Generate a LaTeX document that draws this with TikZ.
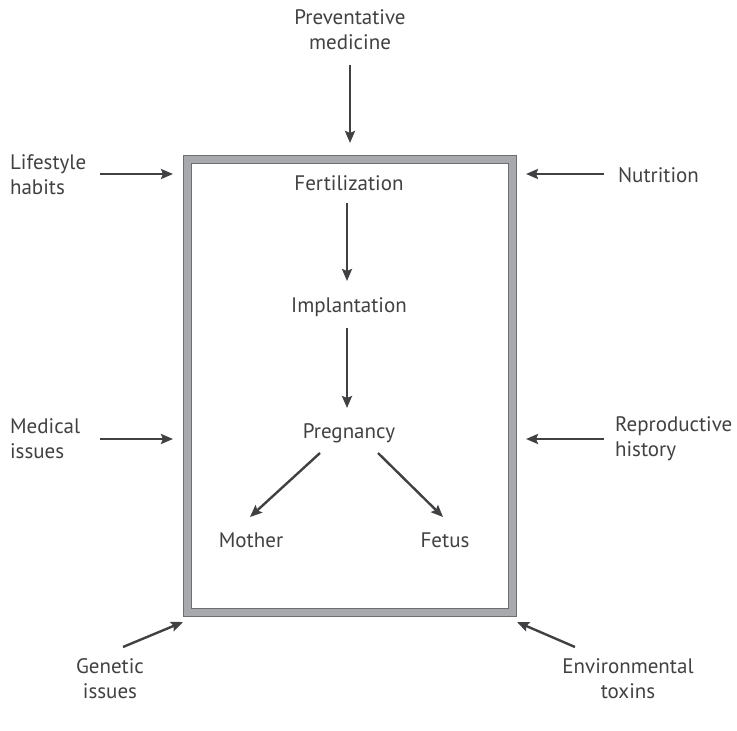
\documentclass[tikz,border=0pt]{standalone}
\usepackage{fontspec}
\setmainfont{PT Sans}
\usetikzlibrary{arrows.meta}
\definecolor{arrgray}{HTML}{414042}
\definecolor{framegray}{HTML}{A7A9AC}
\definecolor{framedark}{HTML}{6D6E71}
\begin{document}
\begin{tikzpicture}[x=0.5pt,y=-0.5pt,
    every node/.style={font=\fontsize{10.5}{12.5}\selectfont, text=arrgray},
    arr/.style={draw=arrgray, line width=1.2pt, -{Stealth[length=6pt,width=5pt,inset=1pt]}}]
  \useasboundingbox (0,0) rectangle (737,731);
  % frame
  \draw[framedark, fill=framegray, line width=0.5pt] (183,156) rectangle (516,616);
  \draw[framedark, fill=white, line width=0.5pt] (191,164) rectangle (508,608);
  % inside
  \node (fert) at (349,183) {Fertilization};
  \node (impl) at (349,307) {Implantation};
  \node (preg) at (349,433) {Pregnancy};
  \node (moth) at (251,540) {Mother};
  \node (fet) at (445,540) {Fetus};
  \draw[arr] (347,203) -- (347,281);
  \draw[arr] (347,328) -- (347,408);
  \draw[arr] (320,453) -- (250,517);
  \draw[arr] (378,453) -- (443,517);
  % outside
  \node[align=center] (prev) at (350,30) {Preventative\\medicine};
  \node[align=left, anchor=west] (life) at (3,175) {Lifestyle\\habits};
  \node[anchor=west] (nutr) at (611,175) {Nutrition};
  \node[align=left, anchor=west] (med) at (3,439) {Medical\\issues};
  \node[align=left, anchor=west] (repr) at (608,439) {Reproductive\\history};
  \node[align=center] (gen) at (110,679) {Genetic\\issues};
  \node[align=center] (env) at (628,679) {Environmental\\toxins};
  \draw[arr] (350,65) -- (350,143);
  \draw[arr] (100,174) -- (173,174);
  \draw[arr] (604,174) -- (526,174);
  \draw[arr] (100,439) -- (173,439);
  \draw[arr] (604,439) -- (526,439);
  \draw[arr] (123,647) -- (183,622);
  \draw[arr] (575,647) -- (517,622);
\end{tikzpicture}
\end{document}
